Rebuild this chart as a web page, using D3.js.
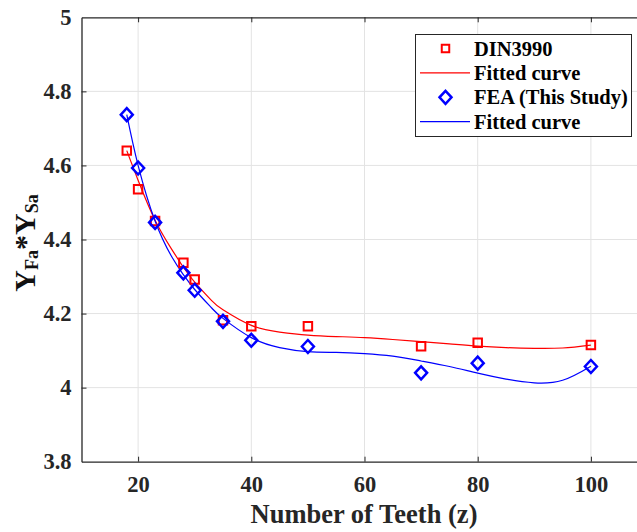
<!DOCTYPE html>
<html>
<head>
<meta charset="utf-8">
<script src="https://cdn.jsdelivr.net/npm/d3@7"></script>
<style>
  body { margin: 0; background: #fff; }
  svg text { font-family: "Liberation Serif", "Times New Roman", Times, "DejaVu Serif", serif; font-weight: bold; }
</style>
</head>
<body>
<div id="chart"></div>
<script>
// Data
var teeth = [18, 20, 23, 28, 30, 35, 40, 50, 70, 80, 100];
var dinValues = [4.640, 4.536, 4.450, 4.337, 4.292, 4.182, 4.166, 4.166, 4.112, 4.121, 4.115];
var feaValues = [4.737, 4.593, 4.446, 4.310, 4.263, 4.179, 4.128, 4.111, 4.040, 4.066, 4.057];

// Fitted curves
var fitTeeth = [18, 20, 23, 26, 28, 30, 33, 35, 40, 45, 50, 55, 60, 65, 70, 75, 80, 85, 90, 95, 100];
var dinFit = [4.640, 4.560, 4.452, 4.372, 4.325, 4.285, 4.235, 4.210, 4.168, 4.150, 4.142, 4.138, 4.135, 4.130, 4.124, 4.118, 4.112, 4.108, 4.106, 4.107, 4.115];
var feaFit = [4.737, 4.600, 4.450, 4.352, 4.305, 4.265, 4.215, 4.187, 4.135, 4.108, 4.097, 4.095, 4.092, 4.085, 4.072, 4.057, 4.039, 4.023, 4.013, 4.020, 4.058];

var xTicks = [20, 40, 60, 80, 100];
var yTicks = [3.8, 4, 4.2, 4.4, 4.6, 4.8, 5];

var legendLabels = ["DIN3990", "Fitted curve", "FEA (This Study)", "Fitted curve"];

var width = 637;
var height = 532;
var serif = "'Liberation Serif', 'Times New Roman', Times, 'DejaVu Serif', serif";

var svg = d3.select("#chart")
    .append("svg")
    .attr("width", width)
    .attr("height", height);

// Scales (right edge of the box is cut off in the reference)
var x = d3.scaleLinear().domain([10, 110]).range([81.5, 647.5]);
var y = d3.scaleLinear().domain([3.8, 5]).range([461.7, 17.3]);

var axisColor = "#262626";

// Grid
svg.append("g").selectAll("line")
    .data(xTicks)
    .enter().append("line")
    .attr("x1", function(d) { return x(d); })
    .attr("x2", function(d) { return x(d); })
    .attr("y1", y(3.8))
    .attr("y2", y(5))
    .attr("stroke", "#e3e3e3")
    .attr("stroke-width", 1);

svg.append("g").selectAll("line")
    .data(yTicks.slice(1, -1))
    .enter().append("line")
    .attr("x1", x(10))
    .attr("x2", width)
    .attr("y1", function(d) { return y(d); })
    .attr("y2", function(d) { return y(d); })
    .attr("stroke", "#e3e3e3")
    .attr("stroke-width", 1);

// Axes, MATLAB style: ticks inside, box on
var bottomAxis = svg.append("g")
    .attr("transform", "translate(0," + y(3.8) + ")")
    .call(d3.axisBottom(x).tickValues(xTicks).tickSizeInner(-5).tickSizeOuter(0).tickPadding(14));

var topAxis = svg.append("g")
    .attr("transform", "translate(0," + y(5) + ")")
    .call(d3.axisTop(x).tickValues(xTicks).tickSizeInner(-5).tickSizeOuter(0).tickFormat(""));

var leftAxis = svg.append("g")
    .attr("transform", "translate(" + x(10) + ",0)")
    .call(d3.axisLeft(y).tickValues(yTicks).tickSizeInner(-5).tickSizeOuter(0).tickPadding(10)
        .tickFormat(function(d) { return d3.format("")(+d.toFixed(1)); }));

[bottomAxis, topAxis, leftAxis].forEach(function(g) {
    g.attr("font-family", serif);
    g.select(".domain").attr("stroke", axisColor).attr("stroke-width", 1.3);
    g.selectAll(".tick line").attr("stroke", axisColor).attr("stroke-width", 1);
    g.selectAll(".tick text")
        .attr("fill", axisColor)
        .style("font-family", serif)
        .style("font-weight", "bold")
        .style("font-size", "22.5px");
});
leftAxis.selectAll(".tick").filter(function(d) { return d === 3.8 || d === 5; }).select("line").remove();

// Fitted curves
var line = d3.line()
    .x(function(d) { return x(d[0]); })
    .y(function(d) { return y(d[1]); })
    .curve(d3.curveNatural);

svg.append("path")
    .datum(d3.zip(fitTeeth, dinFit))
    .attr("d", line)
    .attr("fill", "none")
    .attr("stroke", "#ff0000")
    .attr("stroke-width", 1.2);

svg.append("path")
    .datum(d3.zip(fitTeeth, feaFit))
    .attr("d", line)
    .attr("fill", "none")
    .attr("stroke", "#0000ff")
    .attr("stroke-width", 1.2);

// Markers
var square = d3.symbol().type(d3.symbolSquare).size(72);
var diamond = "M0,-6.5L6,0L0,6.5L-6,0Z";

svg.append("g").selectAll("path")
    .data(d3.zip(teeth, dinValues))
    .enter().append("path")
    .attr("d", square)
    .attr("transform", function(d) { return "translate(" + x(d[0]) + "," + y(d[1]) + ")"; })
    .attr("fill", "none")
    .attr("stroke", "#ff0000")
    .attr("stroke-width", 2);

svg.append("g").selectAll("path")
    .data(d3.zip(teeth, feaValues))
    .enter().append("path")
    .attr("d", diamond)
    .attr("transform", function(d) { return "translate(" + x(d[0]) + "," + y(d[1]) + ")"; })
    .attr("fill", "none")
    .attr("stroke", "#0000ff")
    .attr("stroke-width", 2.5);

// Axis titles
svg.append("text")
    .attr("x", 364)
    .attr("y", 523)
    .attr("text-anchor", "middle")
    .attr("fill", axisColor)
    .style("font-family", serif)
    .style("font-size", "26.5px")
    .text("Number of Teeth (z)");

var yLabel = svg.append("text")
    .attr("transform", "translate(35,243) rotate(-90)")
    .attr("text-anchor", "middle")
    .attr("fill", "#111")
    .style("font-family", serif);
yLabel.append("tspan").style("font-size", "30px").text("Y");
yLabel.append("tspan").style("font-size", "18px").attr("dy", 3).text("Fa");
yLabel.append("tspan").style("font-size", "30px").attr("dy", -3).text("*");
yLabel.append("tspan").style("font-size", "30px").text("Y");
yLabel.append("tspan").style("font-size", "18px").attr("dy", 3).text("Sa");

// Legend
var legend = svg.append("g");
legend.append("rect")
    .attr("x", 415.5)
    .attr("y", 34.5)
    .attr("width", 216)
    .attr("height", 102)
    .attr("fill", "#fff")
    .attr("stroke", axisColor)
    .attr("stroke-width", 1);

var legendY = d3.scalePoint().domain(d3.range(legendLabels.length)).range([48.5, 121.7]);
var legendColors = ["#ff0000", "#ff0000", "#0000ff", "#0000ff"];

legendLabels.forEach(function(label, i) {
    var ly = legendY(i);
    if (i === 0) {
        legend.append("path").attr("d", d3.symbol().type(d3.symbolSquare).size(56))
            .attr("transform", "translate(445.5," + ly + ")")
            .attr("fill", "none").attr("stroke", legendColors[i]).attr("stroke-width", 2);
    } else if (i === 2) {
        legend.append("path").attr("d", diamond)
            .attr("transform", "translate(445.5," + ly + ")")
            .attr("fill", "none").attr("stroke", legendColors[i]).attr("stroke-width", 2.5);
    } else {
        legend.append("line")
            .attr("x1", 420).attr("x2", 470)
            .attr("y1", ly).attr("y2", ly)
            .attr("stroke", legendColors[i]).attr("stroke-width", 1.2);
    }
    legend.append("text")
        .attr("x", 474)
        .attr("y", ly)
        .attr("dy", "0.35em")
        .attr("fill", "#000")
        .style("font-family", serif)
        .style("font-size", "20.5px")
        .text(label);
});
</script>
</body>
</html>
